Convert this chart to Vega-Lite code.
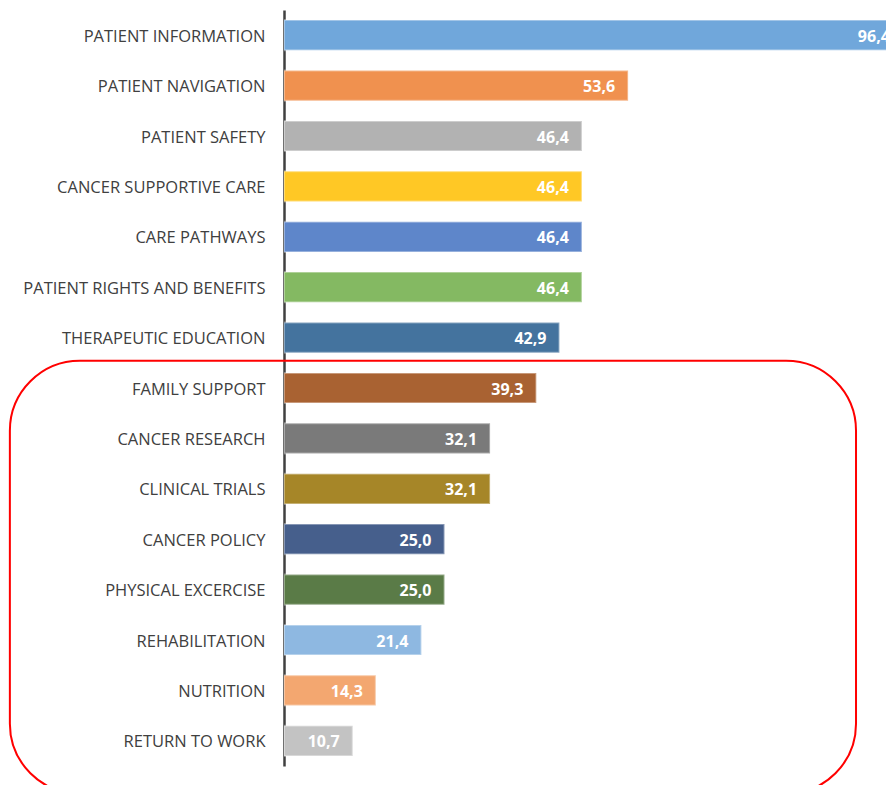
{
  "$schema": "https://vega.github.io/schema/vega-lite/v6.json",
  "autosize": {"type": "none"},
  "width": 602,
  "height": 756,
  "padding": {"left": 284, "top": 10, "right": 0, "bottom": 19},
  "background": "white",
  "config": {"view": {"stroke": null}, "font": "Open Sans"},
  "datasets": {
    "bars": [
      {"topic": "PATIENT INFORMATION", "pct": 96.4, "label": "96,4", "col": "#70A7DB"},
      {"topic": "PATIENT NAVIGATION", "pct": 53.6, "label": "53,6", "col": "#F0914F"},
      {"topic": "PATIENT SAFETY", "pct": 46.4, "label": "46,4", "col": "#B2B2B2"},
      {"topic": "CANCER SUPPORTIVE CARE", "pct": 46.4, "label": "46,4", "col": "#FFC825"},
      {"topic": "CARE PATHWAYS", "pct": 46.4, "label": "46,4", "col": "#5E86CA"},
      {"topic": "PATIENT RIGHTS AND BENEFITS", "pct": 46.4, "label": "46,4", "col": "#84B962"},
      {"topic": "THERAPEUTIC EDUCATION", "pct": 42.9, "label": "42,9", "col": "#44739E"},
      {"topic": "FAMILY SUPPORT ", "pct": 39.3, "label": "39,3", "col": "#A96232"},
      {"topic": "CANCER RESEARCH", "pct": 32.1, "label": "32,1", "col": "#7A7A7A"},
      {"topic": "CLINICAL TRIALS", "pct": 32.1, "label": "32,1", "col": "#A68628"},
      {"topic": "CANCER POLICY", "pct": 25.0, "label": "25,0", "col": "#465F8C"},
      {"topic": "PHYSICAL EXCERCISE", "pct": 25.0, "label": "25,0", "col": "#5A7B47"},
      {"topic": "REHABILITATION", "pct": 21.4, "label": "21,4", "col": "#8EB8E1"},
      {"topic": "NUTRITION", "pct": 14.3, "label": "14,3", "col": "#F3A770"},
      {"topic": "RETURN TO WORK", "pct": 10.7, "label": "10,7", "col": "#C3C3C3"}
    ],
    "box": [
      {"x1": -42.7, "x2": 89.1, "y1": 6.96, "y2": 15.55}
    ]
  },
  "layer": [
    {
      "data": {"name": "bars"},
      "layer": [
        {
          "mark": {"type": "bar", "clip": true, "stroke": "#ffffff", "strokeOpacity": 0.35, "strokeWidth": 2},
          "encoding": {
            "y": {
              "field": "topic", "type": "nominal", "sort": null,
              "scale": {"paddingInner": 0.4, "paddingOuter": 0.2},
              "axis": {
                "title": null, "ticks": false, "labelPadding": 19, "labelOffset": 1.5,
                "labelFontSize": 16.5, "labelColor": "#404040", "labelFont": "Open Sans",
                "domainColor": "#404040", "domainWidth": 2.5, "labelLimit": 300
              }
            },
            "x": {
              "field": "pct", "type": "quantitative",
              "scale": {"domain": [0, 93.77], "nice": false, "zero": true},
              "axis": null
            },
            "color": {"field": "col", "type": "nominal", "scale": null, "legend": null}
          }
        },
        {
          "mark": {"type": "text", "align": "right", "baseline": "middle", "dx": -13, "dy": 1.5, "fontWeight": "bold", "fontSize": 16, "color": "white"},
          "encoding": {
            "y": {"field": "topic", "type": "nominal", "sort": null},
            "x": {"field": "pct", "type": "quantitative"},
            "text": {"field": "label", "type": "nominal"}
          }
        }
      ]
    },
    {
      "data": {"name": "box"},
      "mark": {"type": "rect", "fill": null, "filled": false, "stroke": "#FF0000", "strokeWidth": 2, "cornerRadius": 70, "clip": false},
      "encoding": {
        "x": {"field": "x1", "type": "quantitative"},
        "x2": {"field": "x2"},
        "y": {"field": "y1", "type": "quantitative", "scale": {"domain": [0, 15], "reverse": true, "nice": false, "zero": false}, "axis": null},
        "y2": {"field": "y2"}
      }
    }
  ],
  "resolve": {"scale": {"y": "independent"}, "axis": {"y": "independent"}}
}
